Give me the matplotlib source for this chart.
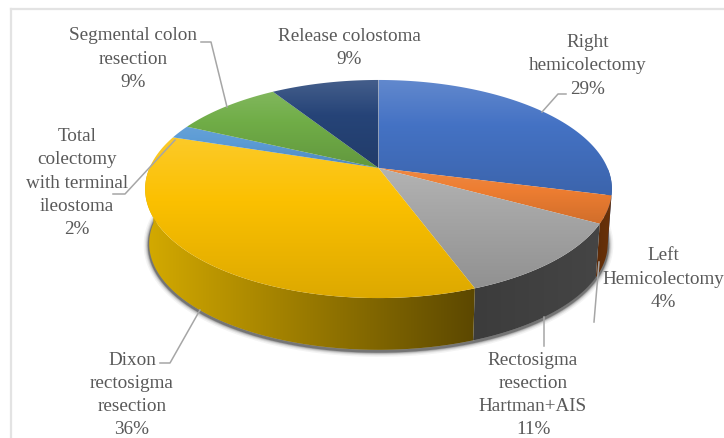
import numpy as np
import matplotlib; matplotlib.use("Agg")
import matplotlib.pyplot as plt
from matplotlib.colors import to_rgb
from matplotlib.patches import Polygon

names = ["Right\nhemicolectomy", "Left\nHemicolectomy", "Rectosigma\nresection\nHartman+AIS",
         "Dixon\nrectosigma\nresection", "Total\ncolectomy\nwith terminal\nileostoma",
         "Segmental colon\nresection", "Release colostoma"]
shares = [29, 4, 11.4, 35.6, 2, 9, 9]
colors = ["#4472C4", "#ED7D31", "#A5A5A5", "#FBC000", "#5B9BD5", "#70AD47", "#264478"]
side_l = ["#2f5597", "#6b3208", "#454545", "#d4aa00", "#3a75ad", "#4f7f30", "#1a3057"]
side_r = ["#2f5597", "#5e2c08", "#3c3c3c", "#5c4800", "#3a75ad", "#4f7f30", "#1a3057"]

# where the labels sit, pixel coords of the 724x438 picture
label_xy = [(588, 66), (663, 279), (533, 395), (132, 395), (77, 183), (133, 59), (349, 48)]
leaders = [[(542, 112), (558, 94), (566, 94)],
           [(599, 262), (594, 322)],
           [(544, 317), (544, 346)],
           [(200, 310), (170, 363), (160, 363)],
           [(175, 140), (125, 194), (113, 194)],
           [(227, 107), (211, 42), (201, 42)]]

TXT = "#595959"; LINE = "#a6a6a6"; K = 0.1927


def rim(a, cy, ax_, bx_):
    # circle angle (clockwise from top) to picture coords, with perspective
    x, y = np.sin(a), np.cos(a)
    d = 1 + K * y
    return 378.5 + bx_ * x / d, cy - ax_ * y / d


def top(a):
    return rim(a, 168, 105, 229)


def low(a):
    return rim(a, 223, 102.4, 225)


def blend(c, other, f):
    return np.array(c) * (1 - f) + np.array(other) * f


fig = plt.figure(figsize=(7.24, 4.38), dpi=100)
ax = fig.add_axes([0, 0, 1, 1])
ax.set_xlim(0, 724); ax.set_ylim(438, 0); ax.axis("off")

# frame of the chart
ax.plot([11, 11], [438, 9], color="#e3e3e3", lw=1.6, zorder=0)
ax.plot([11, 724], [9, 9], color="#e3e3e3", lw=1.6, zorder=0)

# soft shadow under the rim
aa = np.linspace(np.radians(78), np.radians(282), 200)
sx, sy = low(aa)
for lw, al in [(8, .05), (6, .08), (4.5, .13), (3, .22), (2, .35)]:
    ax.plot(sx, sy + 1.5, color="#202020", lw=lw, alpha=al, zorder=1, solid_capstyle="round")

edges = np.radians(np.cumsum([0] + shares) * 3.6)

# side wall
for i in range(len(shares)):
    a0, a1 = max(edges[i], np.radians(90)), min(edges[i + 1], np.radians(270))
    if a1 <= a0:
        continue
    aa = np.linspace(a0, a1, 120)
    tx, ty = top(aa); bx, by = low(aa)
    pts = np.r_[np.c_[tx, ty], np.c_[bx, by][::-1]]
    poly = Polygon(pts, closed=True, fc="none", ec="none", zorder=2)
    ax.add_patch(poly)
    x0, x1 = pts[:, 0].min(), pts[:, 0].max()
    t = np.linspace(1, 0, 200)[None, :, None]
    if i == 3:  # yellow one gets dark to the right
        t = np.linspace(0, 1, 200)[None, :, None]
    g = np.array(to_rgb(side_l[i])) * (1 - t) + np.array(to_rgb(side_r[i])) * t
    im = ax.imshow(g, extent=[x0, x1, pts[:, 1].max(), pts[:, 1].min()], aspect="auto",
                   zorder=2, interpolation="bilinear")
    im.set_clip_path(poly)

# top face, each slice with a vertical gradient of its own
for i in range(len(shares)):
    aa = np.linspace(edges[i], edges[i + 1], 160)
    tx, ty = top(aa)
    pts = np.r_[[[378.5, 168]], np.c_[tx, ty]]
    poly = Polygon(pts, closed=True, fc="none", ec="none", zorder=3)
    ax.add_patch(poly)
    y0, y1 = pts[:, 1].min(), pts[:, 1].max()
    base = to_rgb(colors[i])
    light = .16 * min(1, (y1 - y0) / 100)
    g = np.zeros((120, 1, 3))
    for j, v in enumerate(np.linspace(0, 1, 120)):
        if v < .4:
            g[j, 0] = blend(base, (1, 1, 1), light * (1 - v / .4))
        else:
            g[j, 0] = blend(base, (0, 0, 0), .12 * (v - .4) / .6)
    im = ax.imshow(g, extent=[pts[:, 0].min(), pts[:, 0].max(), y1, y0], aspect="auto",
                   zorder=3, interpolation="bilinear")
    im.set_clip_path(poly)

ax.set_xlim(0, 724); ax.set_ylim(438, 0)

for pts in leaders:
    xs, ys = zip(*pts)
    ax.plot(xs, ys, color=LINE, lw=1.1, zorder=5)

for name, v, (x, y) in zip(names, shares, label_xy):
    ax.text(x, y, f"{name}\n{round(v)}%", ha="center", va="center", color=TXT, zorder=6,
            family=["Liberation Serif", "DejaVu Serif"], fontsize=13.8, linespacing=1.48)

fig.savefig("out.png", dpi=100)
